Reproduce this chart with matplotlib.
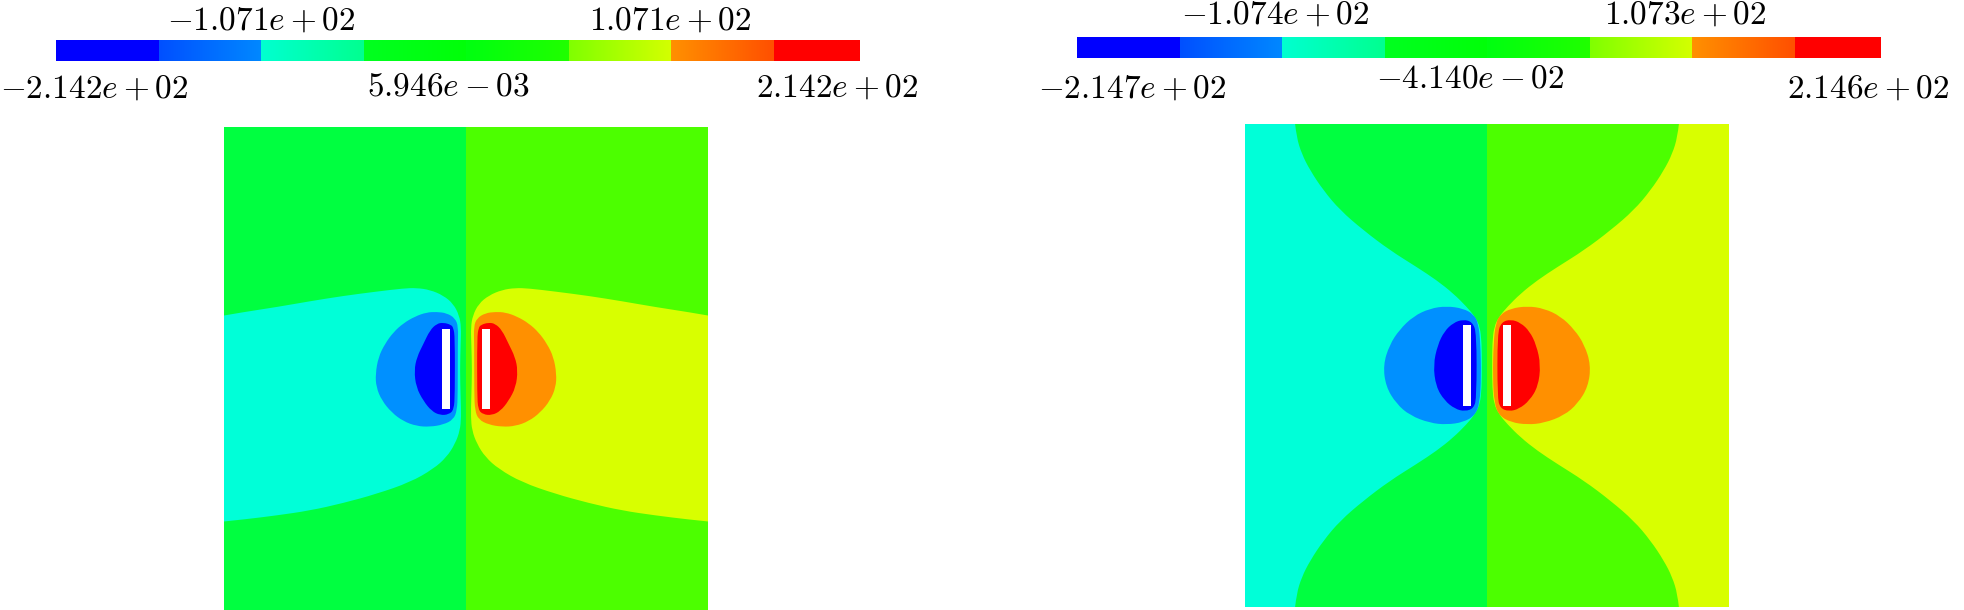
import numpy as np
import matplotlib
matplotlib.use("Agg")
import matplotlib.pyplot as plt
from matplotlib.colors import LinearSegmentedColormap
from matplotlib.patches import Rectangle, PathPatch
from matplotlib.path import Path

plt.rcParams['mathtext.fontset'] = 'cm'

# ---------------- data ----------------
# colour ranges of the two legends
left_range = (-214.2, 214.2)
right_range = (-214.7, 214.6)
left_labels = [-214.2, -107.1, 5.946e-03, 107.1, 214.2]
right_labels = [-214.7, -107.4, -4.140e-02, 107.3, 214.6]

# discrete fill colours of the 8 level bands (plot)
band_colors = ['#0000ff', '#0090ff', '#00ffd8', '#00ff40',
               '#4cff00', '#d8ff00', '#ff9000', '#ff0000']
# colour bar gradient (start / end of each band)
cb_start = ['#0000ff', '#0050ff', '#00ffd0', '#00ff20',
            '#00ff10', '#80ff00', '#ff9000', '#ff0000']
cb_end = ['#0000ff', '#0088ff', '#00ff90', '#00ff08',
          '#20ff00', '#d4ff00', '#ff5000', '#ff0000']

# plate (electrode) on the negative side; positive plate is its mirror
plate_x = (-0.099, -0.066)
plate_y = (-0.167, 0.167)

# ---- left panel: band boundaries traced on negative half (x<0) ----
L_cyan_x = [-1.000, -0.920, -0.782, -0.645, -0.507, -0.369, -0.259, -0.204,
            -0.149, -0.094, -0.052, -0.028, -0.020, -0.022, -0.025, -0.022,
            -0.020, -0.025, -0.045, -0.080, -0.135, -0.231, -0.369, -0.507,
            -0.645, -0.782, -0.920, -1.000]
L_cyan_y = [0.221, 0.235, 0.256, 0.280, 0.302, 0.320, 0.333, 0.335,
            0.327, 0.304, 0.269, 0.221, 0.173, 0.104, -0.006, -0.116,
            -0.199, -0.254, -0.309, -0.364, -0.413, -0.468, -0.516, -0.554,
            -0.585, -0.605, -0.622, -0.630]
L_mid_x = [-0.032, -0.045, -0.080, -0.121, -0.163, -0.211, -0.259, -0.300,
           -0.335, -0.362, -0.374, -0.371, -0.348, -0.307, -0.259, -0.204,
           -0.149, -0.094, -0.052, -0.037, -0.034, -0.034]
L_mid_y = [0.175, 0.210, 0.231, 0.236, 0.234, 0.217, 0.189, 0.152,
           0.104, 0.049, -0.020, -0.075, -0.130, -0.180, -0.216, -0.236,
           -0.239, -0.230, -0.209, -0.171, -0.103, 0.104]
L_core_x = [-0.062, -0.094, -0.121, -0.149, -0.176, -0.203, -0.214, -0.206,
            -0.176, -0.142, -0.107, -0.071, -0.050, -0.046, -0.046, -0.052]
L_core_y = [0.183, 0.192, 0.187, 0.160, 0.104, 0.049, -0.006, -0.075,
            -0.132, -0.174, -0.191, -0.188, -0.168, -0.103, 0.131, 0.170]

# ---- right panel ----
R_cyan_x = [-0.793, -0.787, -0.766, -0.731, -0.676, -0.607, -0.511, -0.401,
            -0.291, -0.208, -0.139, -0.084, -0.050, -0.029, -0.022, -0.021,
            -0.022, -0.029, -0.050, -0.084, -0.139, -0.208, -0.291, -0.401,
            -0.511, -0.607, -0.676, -0.731, -0.766, -0.787, -0.793]
R_cyan_y = [1.000, 0.946, 0.877, 0.808, 0.725, 0.643, 0.560, 0.477,
            0.408, 0.353, 0.298, 0.243, 0.202, 0.160, 0.092, 0.000,
            -0.092, -0.160, -0.202, -0.243, -0.298, -0.353, -0.408, -0.477,
            -0.560, -0.643, -0.725, -0.808, -0.877, -0.946, -1.000]
R_mid_x = [-0.036, -0.056, -0.098, -0.167, -0.236, -0.304, -0.362, -0.403,
           -0.429, -0.418, -0.375, -0.318, -0.236, -0.167, -0.098, -0.050,
           -0.030, -0.024, -0.027]
R_mid_y = [0.176, 0.212, 0.236, 0.246, 0.236, 0.204, 0.148, 0.085,
           0.002, -0.087, -0.158, -0.207, -0.238, -0.245, -0.235, -0.207,
           -0.156, -0.046, 0.092]
R_core_x = [-0.060, -0.098, -0.139, -0.176, -0.204, -0.222, -0.211, -0.176,
            -0.132, -0.091, -0.054, -0.043, -0.043]
R_core_y = [0.180, 0.191, 0.177, 0.142, 0.085, 0.002, -0.087, -0.145,
            -0.180, -0.190, -0.177, -0.129, 0.133]

# ---------------- figure ----------------
W, H = 1965, 610
fig = plt.figure(figsize=(W / 100, H / 100), dpi=100)


def px_axes(x0, y0, x1, y1):
    return fig.add_axes([x0 / W, 1 - y1 / H, (x1 - x0) / W, (y1 - y0) / H])


def closed_path(xs, ys):
    p = np.column_stack([xs, ys])
    n = len(p)
    verts = [(p[-1] + p[0]) / 2]
    codes = [Path.MOVETO]
    for i in range(n):
        verts += [p[i], (p[i] + p[(i + 1) % n]) / 2]
        codes += [Path.CURVE3, Path.CURVE3]
    verts.append(verts[0])
    codes.append(Path.CLOSEPOLY)
    return Path(np.array(verts), codes)


def open_path(xs, ys, extra_x=(), extra_y=()):
    p = np.column_stack([xs, ys])
    n = len(p)
    verts = [p[0]]
    codes = [Path.MOVETO]
    for i in range(1, n - 1):
        end = (p[i] + p[i + 1]) / 2 if i < n - 2 else p[n - 1]
        verts += [p[i], end]
        codes += [Path.CURVE3, Path.CURVE3]
    for ex, ey in zip(extra_x, extra_y):
        verts.append(np.array([ex, ey]))
        codes.append(Path.LINETO)
    verts.append(p[0])
    codes.append(Path.CLOSEPOLY)
    return Path(np.array(verts), codes)


def mirror(path):
    v = path.vertices.copy()
    v[:, 0] = -v[:, 0]
    return Path(v, path.codes)


def draw_field(ax, cyan_path, mid, core):
    ax.set_xlim(-1, 1)
    ax.set_ylim(-1, 1)
    ax.axis('off')
    ax.axvspan(-1, 0, color=band_colors[3], lw=0)
    ax.axvspan(0, 1, color=band_colors[4], lw=0)
    paths = [(cyan_path, band_colors[2], band_colors[5]),
             (closed_path(*mid), band_colors[1], band_colors[6]),
             (closed_path(*core), band_colors[0], band_colors[7])]
    for path, cneg, cpos in paths:
        ax.add_patch(PathPatch(path, facecolor=cneg, edgecolor='none', lw=0))
        ax.add_patch(PathPatch(mirror(path), facecolor=cpos, edgecolor='none', lw=0))
    w = plate_x[1] - plate_x[0]
    h = plate_y[1] - plate_y[0]
    ax.add_patch(Rectangle((plate_x[0], plate_y[0]), w, h, color='white', lw=0))
    ax.add_patch(Rectangle((-plate_x[1], plate_y[0]), w, h, color='white', lw=0))


def draw_bar(ax, vrange):
    vmin, vmax = vrange
    edges = np.linspace(vmin, vmax, 9)
    ax.set_xlim(vmin, vmin + 7.838 / 8 * (vmax - vmin))
    ax.set_ylim(0, 1)
    ax.axis('off')
    for i in range(8):
        cm = LinearSegmentedColormap.from_list('b%d' % i, [cb_start[i], cb_end[i]])
        ax.imshow(np.linspace(0, 1, 64)[None, :], cmap=cm, aspect='auto',
                  extent=[edges[i], edges[i + 1], 0, 1], interpolation='bilinear')


def fmt(v):
    return '$' + ('%.3e' % v) + '$'


def label(v, cx, base):
    fig.text(cx / W, 1 - base / H, fmt(v), ha='center', va='baseline',
             fontsize=24, color='black')


# left panel
axL = px_axes(224, 127, 708, 611)
draw_field(axL, open_path(L_cyan_x, L_cyan_y), (L_mid_x, L_mid_y), (L_core_x, L_core_y))
barL = px_axes(56, 40, 860, 61)
draw_bar(barL, left_range)
for v, cx, b in zip(left_labels, [94, 261, 448, 670, 837], [98, 30, 95, 30, 97]):
    label(v, cx, b)

# right panel
axR = px_axes(1245, 124, 1729, 607)
draw_field(axR, open_path(R_cyan_x, R_cyan_y, (-1.0, -1.0), (-1.0, 1.0)),
           (R_mid_x, R_mid_y), (R_core_x, R_core_y))
barR = px_axes(1077, 37, 1881, 58)
draw_bar(barR, right_range)
for v, cx, b in zip(right_labels, [1132, 1275, 1470, 1685, 1868], [98, 24, 88, 24, 98]):
    label(v, cx, b)

fig.savefig('out.png', dpi=100)
